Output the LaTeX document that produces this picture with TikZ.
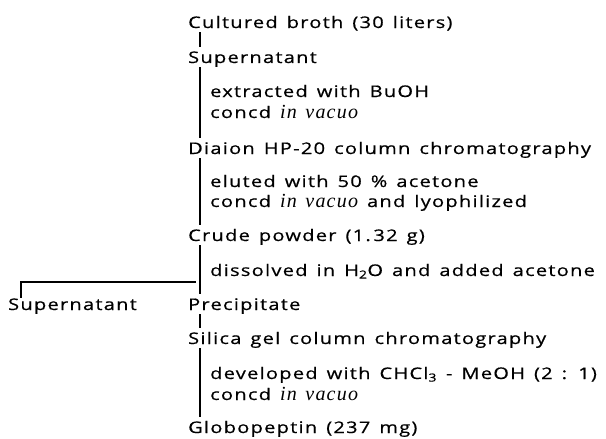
\documentclass[tikz,border=0pt]{standalone}
\usepackage{fontspec}
\setmainfont{Open Sans}[LetterSpace=8, FakeStretch=1.25, WordSpace=1.4, FakeBold=0.6]
\newfontfamily\vacfont{Liberation Serif}[Scale=1.25, LetterSpace=6, WordSpace=1.4]
\usetikzlibrary{positioning}
\newcommand{\vac}{{\vacfont\itshape in vacuo}}
\tikzset{
  stage/.style={anchor=base west, inner xsep=0pt, inner ysep=1pt, text height=11pt, text depth=3pt, font=\fontsize{16}{19}\selectfont},
  note/.style={stage},
  link/.style={line width=1.1pt, shorten >=4pt}
}
\begin{document}
\begin{tikzpicture}[x=1pt,y=-1pt]
\useasboundingbox (0,0) rectangle (606,439);
% main column
\node[stage] (broth)  at (188,28)  {Cultured broth (30 liters)};
\node[stage] (sup)    at (188,63)  {Supernatant};
\node[note]  (n1a)    at (210,97)  {extracted with BuOH};
\node[note]  (n1b)    at (210,118) {concd \vac};
\node[stage] (diaion) at (188,154) {Diaion HP-20 column chromatography};
\node[note]  (n2a)    at (210,187) {eluted with 50 \% acetone};
\node[note]  (n2b)    at (210,207) {concd \vac{} and lyophilized};
\node[stage] (crude)  at (188,241) {Crude powder (1.\,32 g)};
\node[note]  (n3)     at (210,276) {dissolved in H\textsubscript{2}O and added acetone};
\node[stage] (prec)   at (188,310) {Precipitate};
\node[stage] (sup2)   at (8,310)   {Supernatant};
\node[stage] (silica) at (188,344) {Silica gel column chromatography};
\node[note]  (n4a)    at (210,379) {developed with CHCl\textsubscript{3} - MeOH (2 : 1)};
\node[note]  (n4b)    at (210,400) {concd \vac};
\node[stage] (globo)  at (188,433) {Globopeptin (237 mg)};
\coordinate (fork) at (200,282);
% connectors
\draw[link] ([xshift=12pt]broth.south west) -- ([xshift=12pt]sup.north west);
\draw[link] ([xshift=12pt]sup.south west) -- ([xshift=12pt]diaion.north west);
\draw[link] ([xshift=12pt]diaion.south west) -- ([xshift=12pt]crude.north west);
\draw[link] ([xshift=12pt]crude.south west) -- ([xshift=12pt]prec.north west);
\draw[link] ([xshift=13pt]sup2.north west) |- (fork);
\draw[link] ([xshift=12pt]prec.south west) -- ([xshift=12pt]silica.north west);
\draw[link] ([xshift=12pt]silica.south west) -- ([xshift=12pt]globo.north west);
\end{tikzpicture}
\end{document}
